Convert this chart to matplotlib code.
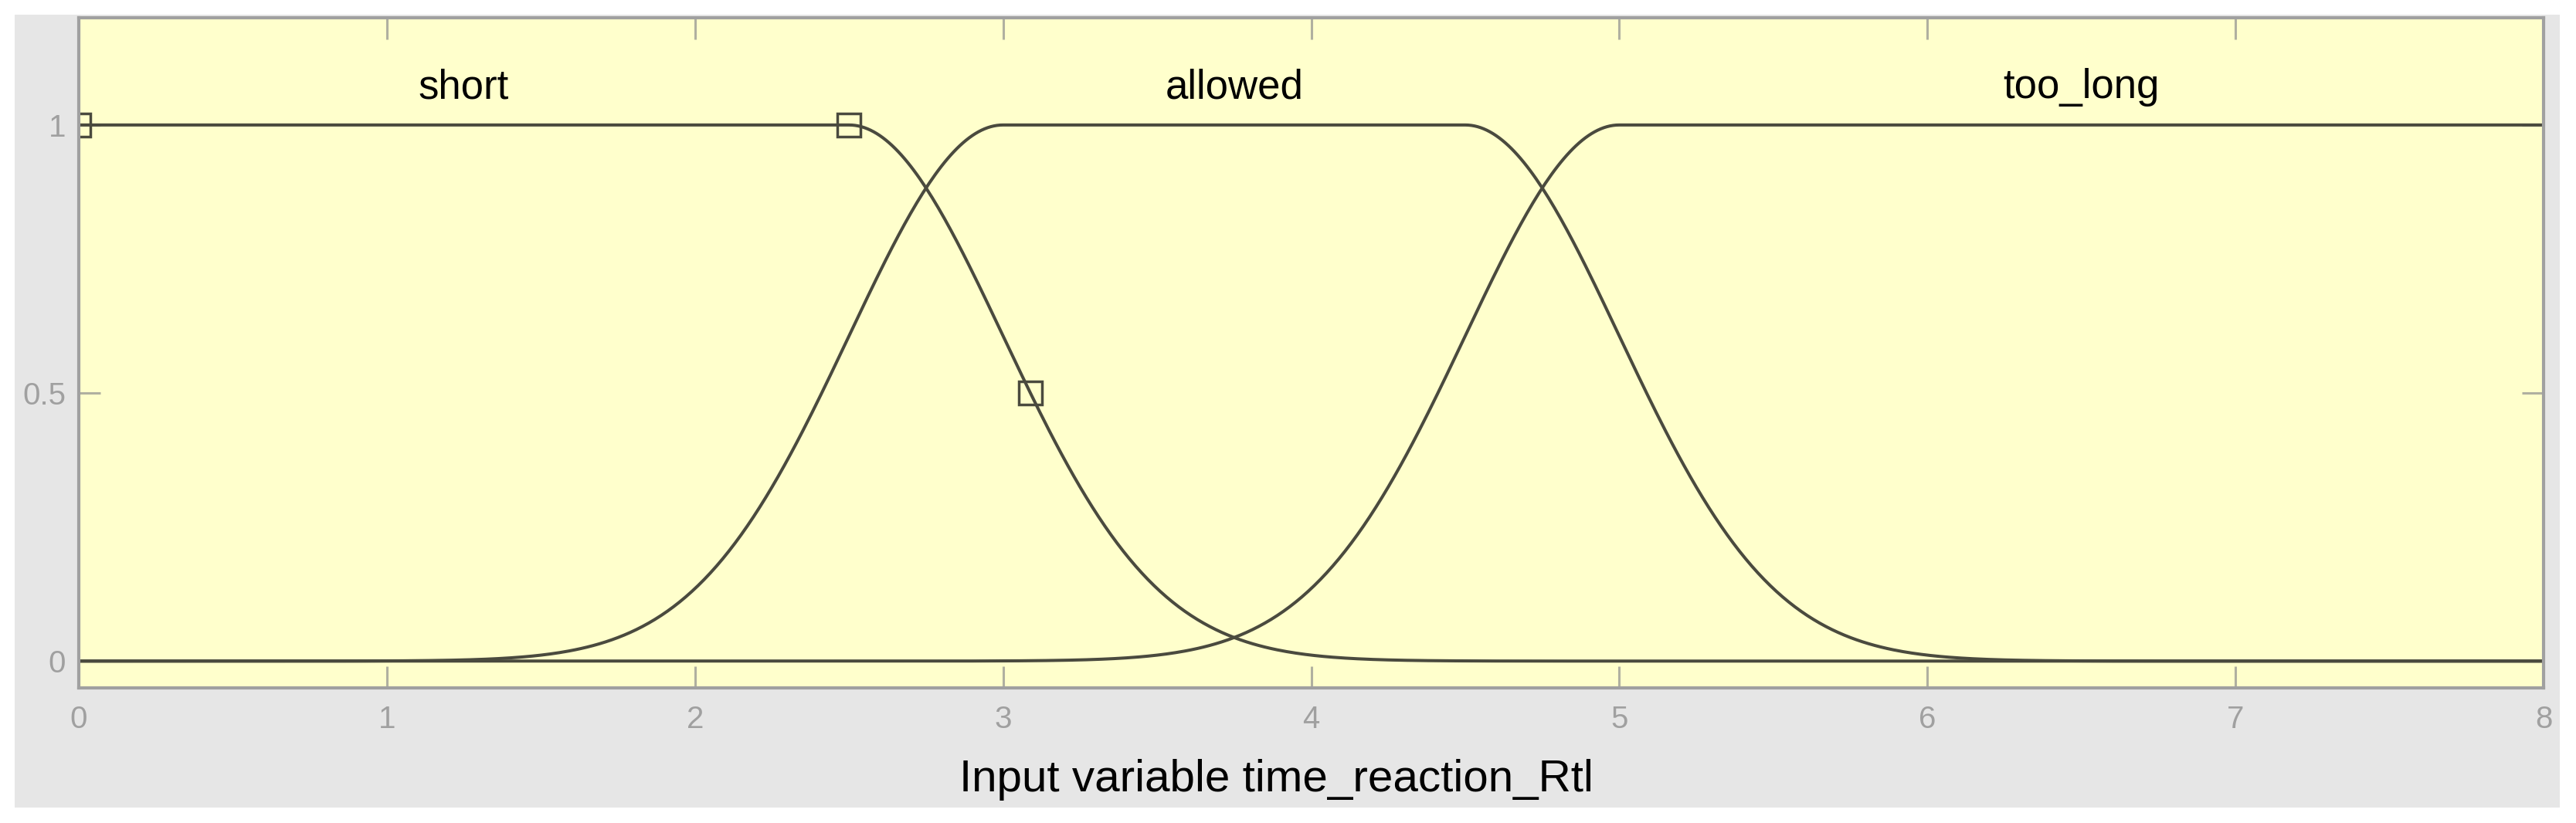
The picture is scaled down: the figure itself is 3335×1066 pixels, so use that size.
import numpy as np
import matplotlib
matplotlib.use('Agg')
import matplotlib.pyplot as plt
from matplotlib.patches import Rectangle

plt.rcParams['font.family'] = ['Liberation Sans', 'DejaVu Sans']

# membership functions (gauss2mf): [sigma1, c1, sigma2, c2]
mf_names = ['short', 'allowed', 'too_long']
mf_params = [[0.5, 0.0, 0.5, 2.5],
             [0.5, 3.0, 0.5, 4.5],
             [0.5, 5.0, 0.5, 8.0]]
x_range = [0, 8]
x_ticks = [0, 1, 2, 3, 4, 5, 6, 7, 8]
y_ticks = [0, 0.5, 1]
y_ticklabels = ['0', '0.5', '1']
selected = 0   # mf shown with its handles
xlabel = 'Input variable time_reaction_Rtl'


def gauss2mf(x, p):
    s1, c1, s2, c2 = p
    left = np.where(x < c1, np.exp(-(x - c1) ** 2 / (2 * s1 ** 2)), 1.0)
    right = np.where(x > c2, np.exp(-(x - c2) ** 2 / (2 * s2 ** 2)), 1.0)
    return left * right


W, H = 3335, 1066
fig = plt.figure(figsize=(W / 100, H / 100), dpi=100, facecolor='white')
fig.add_artist(Rectangle((19 / W, 20 / H), (3314 - 19) / W, (1046 - 19) / H,
                         transform=fig.transFigure, facecolor='#e6e6e6',
                         edgecolor='none', zorder=-5))

ax = fig.add_axes([102 / W, (H - 891) / H, (3293 - 102) / W, (891 - 23) / H])
ax.set_zorder(1)
ax.set_facecolor('#ffffcc')

line_col = '#4a4a3e'
xs = np.linspace(x_range[0], x_range[1], 801)
for name, p in zip(mf_names, mf_params):
    ax.plot(xs, gauss2mf(xs, p), color=line_col, lw=2.9, solid_capstyle='butt')
    xc = (max(p[1], x_range[0]) + min(p[3], x_range[1])) / 2
    ax.text(xc, 1.05, name, fontsize=38, ha='center', va='baseline', color='black')

# handles of the selected mf
s1, c1, s2, c2 = mf_params[selected]
hx = [c1, c2, c2 + s2 * np.sqrt(2 * np.log(2))]
hy = [1, 1, 0.5]
ax.plot(hx, hy, ls='none', marker='s', ms=21, mfc='none', mec=line_col, mew=2.5)

ax.set_xlim(x_range)
ax.set_ylim(-0.05, 1.2)
ax.set_xticks(x_ticks)
ax.set_yticks(y_ticks)
ax.set_yticklabels(y_ticklabels)
ax.tick_params(direction='in', length=20, width=2.2, color='#b0b0a0',
               labelcolor='#a0a0a0', labelsize=29, top=True, right=True)
ax.tick_params(axis='x', pad=16)
ax.tick_params(axis='y', pad=12)
for sp in ax.spines.values():
    sp.set_color('#a0a0a0')
    sp.set_linewidth(3)

ax.set_xlabel(xlabel, fontsize=42, color='black', va='baseline')
ax.xaxis.set_label_coords(0.486, -0.1544)

fig.savefig('out.png', dpi=100, facecolor='white')
